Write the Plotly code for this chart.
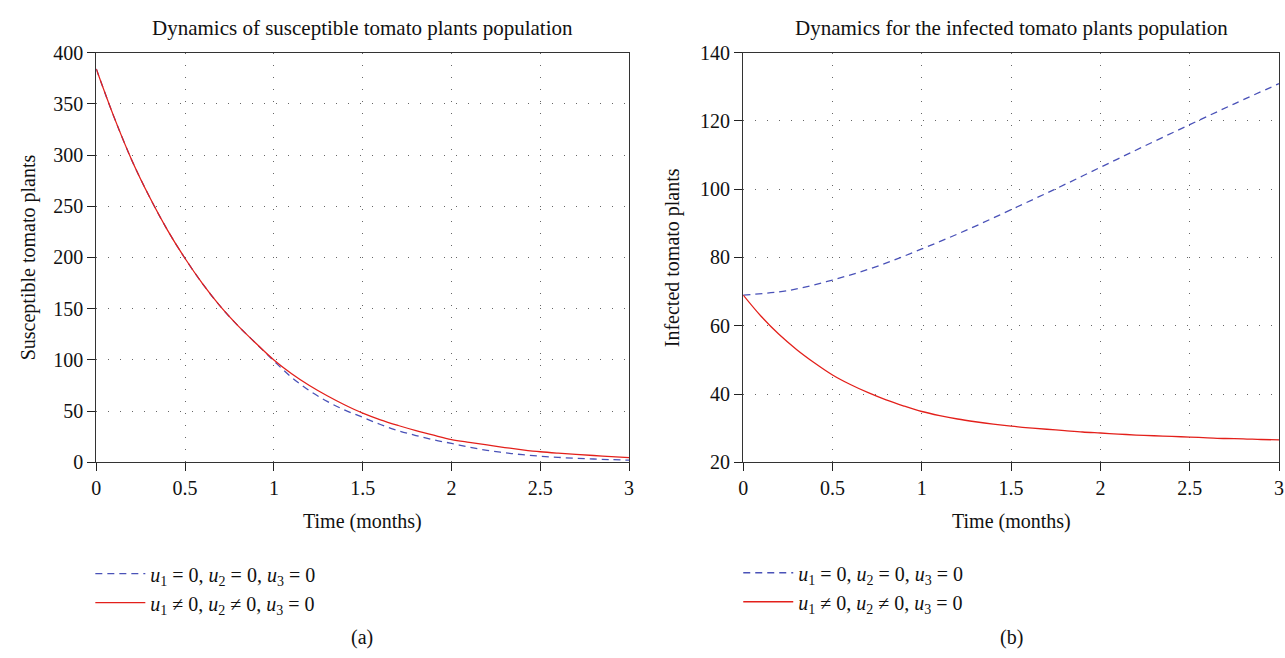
import plotly.graph_objects as go

# Time grid (months)
t = [0.0, 0.1, 0.2, 0.3, 0.4, 0.5, 0.6, 0.7, 0.8, 0.9, 1.0,
     1.1, 1.2, 1.3, 1.4, 1.5, 1.6, 1.7, 1.8, 1.9, 2.0,
     2.1, 2.2, 2.3, 2.4, 2.5, 2.6, 2.7, 2.8, 2.9, 3.0]

# Susceptible plants, no control
S_no_control = [384, 337, 295, 259, 227, 199, 174, 152, 133, 116, 99,
                83, 70, 59.5, 51, 44, 37, 31, 26.2, 22, 18.5,
                14.8, 11.8, 9.4, 7.5, 6.0, 4.9, 4.0, 3.3, 2.7, 2.2]
# Susceptible plants, with u1 and u2
S_control = [384, 337, 295, 259, 227, 199, 174, 152, 133, 116, 100,
             86.5, 75, 65, 56, 48, 41.5, 36, 31, 26.5, 22.3,
             19.5, 17, 14.5, 12.3, 10.4, 9.0, 7.8, 6.7, 5.7, 4.6]

# Infected plants
t_coarse = [0.0, 0.25, 0.5, 0.75, 1.0, 1.25, 1.5, 1.75, 2.0, 2.25, 2.5, 2.75, 3.0]
I_no_control = [69.0, 70.3, 73.4, 77.4, 82.5, 88.0, 94.0, 100.1, 106.4, 112.7, 118.9, 125.0, 130.9]
I_control = [69.0, 62.8, 57.5, 53.0, 49.1, 45.6, 42.8, 40.4, 38.3, 36.5, 34.9,
             33.7, 32.7, 31.9, 31.2, 30.6, 30.1, 29.7, 29.3, 28.9, 28.6,
             28.3, 28.0, 27.8, 27.6, 27.4, 27.2, 27.0, 26.9, 26.7, 26.6]

x_ticks = [0, 0.5, 1, 1.5, 2, 2.5, 3]
x_tick_text = ["0", "0.5", "1", "1.5", "2", "2.5", "3"]
S_ticks = [0, 50, 100, 150, 200, 250, 300, 350, 400]
I_ticks = [20, 40, 60, 80, 100, 120, 140]

label_off = "<i>u</i><sub>1</sub> = 0, <i>u</i><sub>2</sub> = 0, <i>u</i><sub>3</sub> = 0"
label_on = "<i>u</i><sub>1</sub> \u2260 0, <i>u</i><sub>2</sub> \u2260 0, <i>u</i><sub>3</sub> = 0"

BLUE = "#4a52b8"
RED = "#e3201b"
FONT = "Liberation Serif"
FS = 20
W, H = 1285, 658

fig = go.Figure()

fig.add_trace(go.Scatter(x=t, y=S_no_control, mode="lines", name=label_off,
                         line=dict(color=BLUE, width=1.3, dash="7px,5px", shape="spline"),
                         xaxis="x", yaxis="y", legend="legend"))
fig.add_trace(go.Scatter(x=t, y=S_control, mode="lines", name=label_on,
                         line=dict(color=RED, width=1.3, shape="spline"),
                         xaxis="x", yaxis="y", legend="legend"))
fig.add_trace(go.Scatter(x=t_coarse, y=I_no_control, mode="lines", name=label_off,
                         line=dict(color=BLUE, width=1.3, dash="7px,5px", shape="spline"),
                         xaxis="x2", yaxis="y2", legend="legend2"))
fig.add_trace(go.Scatter(x=t, y=I_control, mode="lines", name=label_on,
                         line=dict(color=RED, width=1.3, shape="spline"),
                         xaxis="x2", yaxis="y2", legend="legend2"))


def px_x(p):
    return p / W


def px_y(p):
    return 1 - p / H


axis_common = dict(
    showline=True, mirror=True, linecolor="#333333", linewidth=1.2,
    ticks="outside", ticklen=8, tickwidth=1.2, tickcolor="#222222",
    showgrid=True, gridcolor="#666666", gridwidth=1, griddash="1px,11px",
    zeroline=False, tickfont=dict(family=FONT, size=FS, color="#111111"),
)

y_dom = [px_y(467), px_y(43)]
legend_common = dict(xanchor="left", yanchor="top", bgcolor="rgba(0,0,0,0)",
                     font=dict(family=FONT, size=FS), tracegroupgap=0, itemwidth=50)

fig.update_layout(
    width=W, height=H,
    margin=dict(l=0, r=0, t=0, b=0),
    paper_bgcolor="white", plot_bgcolor="white",
    font=dict(family=FONT, size=FS, color="#111111"),
    xaxis=dict(domain=[px_x(92), px_x(629)], range=[0, 3], tickvals=x_ticks,
               ticktext=x_tick_text, anchor="y", **axis_common),
    yaxis=dict(domain=y_dom, range=[0, 400], tickvals=S_ticks, anchor="x", **axis_common),
    xaxis2=dict(domain=[px_x(744), px_x(1284)], range=[0, 3], tickvals=x_ticks,
                ticktext=x_tick_text, anchor="y2", **axis_common),
    yaxis2=dict(domain=y_dom, range=[20, 140], tickvals=I_ticks, anchor="x2", **axis_common),
    legend=dict(x=px_x(86), y=px_y(562), **legend_common),
    legend2=dict(x=px_x(739), y=px_y(561), **legend_common),
    showlegend=True,
)

annotations = [
    dict(text="Dynamics of susceptible tomato plants population", x=px_x(360), y=px_y(18), size=21),
    dict(text="Dynamics for the infected tomato plants population", x=px_x(1014), y=px_y(18), size=21),
    dict(text="Time (months)", x=px_x(360), y=px_y(528)),
    dict(text="Time (months)", x=px_x(1014), y=px_y(528)),
    dict(text="Susceptible tomato plants", x=px_x(24), y=px_y(255), textangle=-90),
    dict(text="Infected tomato plants", x=px_x(673), y=px_y(255), textangle=-90),
    dict(text="(a)", x=px_x(360), y=px_y(648)),
    dict(text="(b)", x=px_x(1014), y=px_y(648)),
]
for a in annotations:
    size = a.pop("size", FS)
    fig.add_annotation(xref="paper", yref="paper", xanchor="center", yanchor="middle",
                       showarrow=False, font=dict(family=FONT, size=size, color="#111111"), **a)

fig.write_html("out.html")
